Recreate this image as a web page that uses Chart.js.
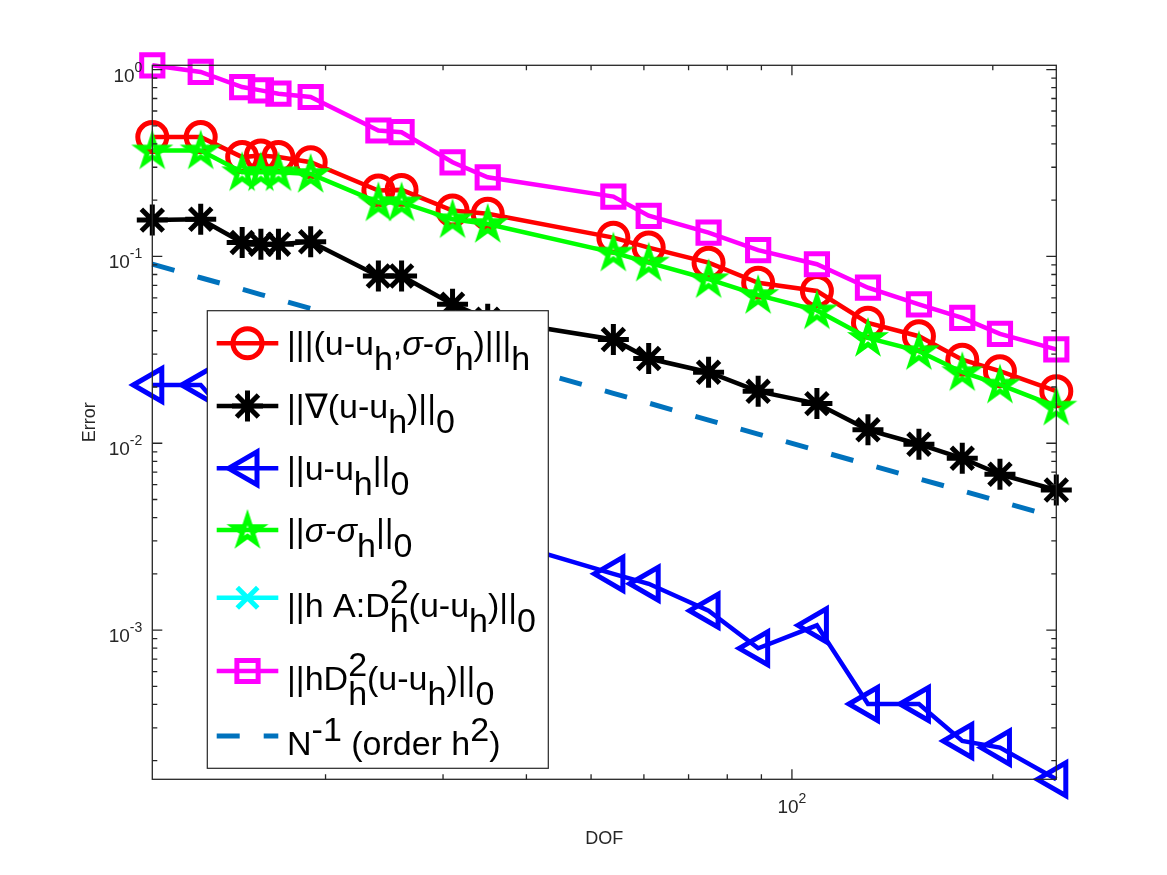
<!DOCTYPE html>
<html>
<head>
<meta charset="utf-8">
<title>Error vs DOF</title>
<script src="https://cdn.jsdelivr.net/npm/chart.js@4.4.0/dist/chart.umd.min.js"></script>
<style>
  html, body { margin: 0; padding: 0; background: #fff; }
  #wrap { width: 1167px; height: 875px; }
</style>
</head>
<body>
<div id="wrap"><canvas id="errChart" width="1167" height="875"></canvas></div>
<script>
// degrees of freedom of each mesh
const dof = [11, 13, 15, 16, 17, 19, 24, 26, 31, 35, 54, 61, 75, 89, 109, 130, 155, 180, 205, 249];

// error norms
const errEnergy = [0.435, 0.435, 0.340, 0.347, 0.340, 0.319, 0.225, 0.227, 0.176, 0.169,
                   0.126, 0.1115, 0.0926, 0.0723, 0.0653, 0.0441, 0.0374, 0.0280, 0.0243, 0.0190];
const errGrad = [0.1564, 0.158, 0.1186, 0.1163, 0.1163, 0.1197, 0.0786, 0.0786, 0.0555, 0.0461,
                 0.0359, 0.0284, 0.0240, 0.01896, 0.0163, 0.0118, 0.00988, 0.00831, 0.00682, 0.00562];
// points 3-10 sit behind the legend, so those are guesses
const errL2 = [0.0205, 0.0205, 0.0115, 0.0112, 0.0110, 0.0105, 0.0062, 0.0058, 0.0041, 0.00316,
               0.00200, 0.00177, 0.00127, 0.000799, 0.00106, 0.000402, 0.000402, 0.000255, 0.000235, 0.000159];
const errSigma = [0.369, 0.369, 0.282, 0.282, 0.282, 0.276, 0.1945, 0.1945, 0.158, 0.149,
                  0.1048, 0.0926, 0.0755, 0.0621, 0.0514, 0.0366, 0.0311, 0.0240, 0.0206, 0.0157];
const errHessA = []; // only shows up in the legend
const errHess = [1.054, 0.971, 0.806, 0.774, 0.743, 0.713, 0.472, 0.462, 0.319, 0.265,
                 0.209, 0.165, 0.134, 0.108, 0.0908, 0.0680, 0.0553, 0.0469, 0.0385, 0.0318];
// reference slope N^-1
const refLine = [0.0909, 0.0769, 0.0667, 0.0625, 0.0588, 0.0526, 0.0417, 0.0385, 0.0323, 0.0286,
                 0.0185, 0.0164, 0.0133, 0.0112, 0.00917, 0.00769, 0.00645, 0.00556, 0.00488, 0.00402];

const xTicks = [100];
const xTickLabels = ['10^{2}'];
const yTicks = [1e-3, 1e-2, 1e-1, 1];
const yTickLabels = ['10^{-3}', '10^{-2}', '10^{-1}', '10^{0}'];

const FONT = '"Liberation Sans", Helvetica, Arial, sans-serif';
const AXIS_COLOR = '#262626';
const legendRowY = [343.3, 406, 468.3, 530, 597.7, 671, 736];

// tiny TeX subset: _x, ^x, _{..}, ^{..}, \sigma, \nabla
function parseTex(src) {
    const s = src.replace(/\\sigma/g, 'σ').replace(/\\nabla/g, '∇');
    const segs = [];
    let buf = '';
    for (let i = 0; i < s.length; i++) {
        const c = s[i];
        if (c === '_' || c === '^') {
            if (buf) { segs.push({ text: buf, mode: 'n' }); buf = ''; }
            let arg;
            if (s[i + 1] === '{') {
                const end = s.indexOf('}', i + 2);
                arg = s.slice(i + 2, end);
                i = end;
            } else {
                arg = s[i + 1];
                i += 1;
            }
            segs.push({ text: arg, mode: c === '_' ? 'sub' : 'sup' });
        } else {
            buf += c;
        }
    }
    if (buf) segs.push({ text: buf, mode: 'n' });
    return segs;
}

// draws (or just measures when dry) a parsed label, returns the end x
function drawTex(ctx, src, x, y, o, dry) {
    const segs = parseTex(src);
    let prev = null;
    let scriptX = x;
    for (const seg of segs) {
        const script = seg.mode !== 'n';
        const stacked = script && prev && prev.mode !== 'n' && prev.mode !== seg.mode;
        const startX = stacked ? scriptX : x;
        const dy = seg.mode === 'sub' ? o.subDy : seg.mode === 'sup' ? o.supDy : 0;
        const fs = script ? o.scriptSize : o.size;
        let cx = startX;
        // sigma in italics, like the symbol font does
        const runs = seg.text.split(/(σ)/).filter(t => t);
        for (const t of runs) {
            ctx.font = (t === 'σ' ? 'italic ' : '') + fs + 'px ' + FONT;
            if (!dry) ctx.fillText(t, cx, y + dy);
            cx += ctx.measureText(t).width;
        }
        if (stacked) {
            x = Math.max(x, cx);
        } else {
            scriptX = startX;
            x = cx;
        }
        prev = seg;
    }
    return x;
}

// pentagram marker, drawn once and used as an image point style
function pentagram(color, R, lw) {
    const c = document.createElement('canvas');
    const s = Math.ceil(2 * R + 2 * lw + 6);
    c.width = s;
    c.height = s;
    const g = c.getContext('2d');
    g.translate(s / 2, s / 2 + 1);
    g.beginPath();
    for (let k = 0; k < 10; k++) {
        const r = k % 2 ? R * 0.382 : R;
        const ang = -Math.PI / 2 + k * Math.PI / 5;
        g.lineTo(r * Math.cos(ang), r * Math.sin(ang));
    }
    g.closePath();
    g.strokeStyle = color;
    g.lineWidth = lw;
    g.lineJoin = 'miter';
    g.stroke();
    return c;
}

const series = (label, tex, values, color, style, extra) => Object.assign({
    label: label,
    tex: tex,
    data: values.map((v, i) => ({ x: dof[i], y: v })),
    borderColor: color,
    borderWidth: 4.5,
    pointStyle: style,
    pointRadius: 14.5,
    pointHoverRadius: 14.5,
    pointBorderColor: color,
    pointBackgroundColor: 'rgba(0,0,0,0)',
    pointBorderWidth: 5,
    fill: false,
    clip: false
}, extra);

const starImg = pentagram('#00FF00', 14, 5);

const datasets = [
    series('|||(u-uh,σ-σh)|||h', '|||(u-u_h,\\sigma-\\sigma_h)|||_h', errEnergy, '#FF0000', 'circle', { order: 7 }),
    series('||∇(u-uh)||0', '||\\nabla(u-u_h)||_0', errGrad, '#000000', 'star', { order: 6, pointRadius: 15.5 }),
    series('||u-uh||0', '||u-u_h||_0', errL2, '#0000FF', 'triangle', { order: 5, pointRotation: -90, pointRadius: 19 }),
    series('||σ-σh||0', '||\\sigma-\\sigma_h||_0', errSigma, '#00FF00', starImg, { order: 4 }),
    series('||h A:Dh2(u-uh)||0', '||h A:D_h^2(u-u_h)||_0', errHessA, '#00FFFF', 'crossRot', { order: 3 }),
    series('||hDh2(u-uh)||0', '||hD_h^2(u-u_h)||_0', errHess, '#FF00FF', 'rect', { order: 2, pointRadius: 15 }),
    series('N-1 (order h2)', 'N^{-1} (order h^2)', refLine, '#0072BD', 'line',
           { order: 1, pointRadius: 0, pointHoverRadius: 0, borderWidth: 5, borderDash: [23, 24] })
];

const allValues = [].concat(errEnergy, errGrad, errL2, errSigma, errHessA, errHess, refLine);
const yMin = Math.min(...allValues);
const yMax = Math.max(...allValues);

const logTicks = (min, max) => {
    const out = [];
    for (let k = Math.floor(Math.log10(min)); k <= Math.ceil(Math.log10(max)); k++) {
        for (let m = 1; m <= 9; m++) {
            const v = m * Math.pow(10, k);
            if (v >= min * 0.9999 && v <= max * 1.0001) out.push({ v: v, major: m === 1 });
        }
    }
    return out;
};

const matlabAxes = {
    id: 'matlabAxes',
    afterDatasetsDraw(chart) {
        const { ctx, chartArea: a, scales: { x, y } } = chart;
        ctx.save();
        ctx.strokeStyle = AXIS_COLOR;
        ctx.lineWidth = 1.3;
        ctx.strokeRect(a.left, a.top, a.right - a.left, a.bottom - a.top);

        // inward ticks on all four sides
        ctx.beginPath();
        logTicks(x.min, x.max).forEach(t => {
            const px = x.getPixelForValue(t.v);
            const len = t.major ? 10 : 5;
            ctx.moveTo(px, a.bottom); ctx.lineTo(px, a.bottom - len);
            ctx.moveTo(px, a.top); ctx.lineTo(px, a.top + len);
        });
        logTicks(y.min, y.max).forEach(t => {
            const py = y.getPixelForValue(t.v);
            const len = t.major ? 10 : 5;
            ctx.moveTo(a.left, py); ctx.lineTo(a.left + len, py);
            ctx.moveTo(a.right, py); ctx.lineTo(a.right - len, py);
        });
        ctx.stroke();

        // tick labels
        ctx.fillStyle = AXIS_COLOR;
        ctx.textBaseline = 'alphabetic';
        ctx.textAlign = 'left';
        const tickFont = { size: 19, scriptSize: 14, subDy: 5, supDy: -10 };
        yTicks.forEach((v, i) => {
            const py = y.getPixelForValue(v);
            const w = drawTex(ctx, yTickLabels[i], 0, 0, tickFont, true);
            drawTex(ctx, yTickLabels[i], a.left - 10 - w, py + 12, tickFont);
        });
        xTicks.forEach((v, i) => {
            const px = x.getPixelForValue(v);
            const w = drawTex(ctx, xTickLabels[i], 0, 0, tickFont, true);
            drawTex(ctx, xTickLabels[i], px - w / 2, a.bottom + 34, tickFont);
        });

        // axis titles
        ctx.font = '18px ' + FONT;
        ctx.textAlign = 'center';
        ctx.fillText('DOF', (a.left + a.right) / 2, a.bottom + 65);
        ctx.save();
        ctx.translate(a.left - 57, (a.top + a.bottom) / 2);
        ctx.rotate(-Math.PI / 2);
        ctx.fillText('Error', 0, 0);
        ctx.restore();
        ctx.restore();
    },
    afterDraw(chart) {
        const { ctx } = chart;
        const box = { left: 207.3, top: 310.7, right: 548.3, bottom: 768.3 };
        ctx.save();
        ctx.fillStyle = '#FFFFFF';
        ctx.fillRect(box.left, box.top, box.right - box.left, box.bottom - box.top);
        ctx.strokeStyle = AXIS_COLOR;
        ctx.lineWidth = 1.2;
        ctx.strokeRect(box.left, box.top, box.right - box.left, box.bottom - box.top);

        const lineX0 = 216.7, lineX1 = 278.3, textX = 287;
        const textFont = { size: 34, scriptSize: 34, subDy: 15, supDy: -14 };
        chart.data.datasets.forEach((ds, i) => {
            const ry = legendRowY[i];
            ctx.strokeStyle = ds.borderColor;
            ctx.lineWidth = ds.borderWidth;
            ctx.setLineDash(ds.borderDash || []);
            ctx.beginPath();
            ctx.moveTo(lineX0, ry);
            ctx.lineTo(lineX1, ry);
            ctx.stroke();
            ctx.setLineDash([]);
            if (ds.pointRadius > 0 && Chart.helpers && Chart.helpers.drawPoint) {
                ctx.fillStyle = 'rgba(0,0,0,0)';
                ctx.lineWidth = ds.pointBorderWidth;
                Chart.helpers.drawPoint(ctx, {
                    pointStyle: ds.pointStyle,
                    rotation: ds.pointRotation || 0,
                    radius: ds.pointRadius,
                    borderWidth: ds.pointBorderWidth
                }, (lineX0 + lineX1) / 2, ry);
            }
            ctx.fillStyle = '#000000';
            ctx.textAlign = 'left';
            const off = ds.tex.indexOf('^') >= 0 ? 19 : 12;
            drawTex(ctx, ds.tex, textX, ry + off, textFont);
        });
        ctx.restore();
    }
};

new Chart(document.getElementById('errChart').getContext('2d'), {
    type: 'line',
    data: { datasets: datasets },
    options: {
        responsive: false,
        animation: false,
        layout: { padding: { left: 152.3, right: 110.7, top: 65.3, bottom: 95.7 } },
        plugins: { legend: { display: false }, tooltip: { enabled: false } },
        elements: { line: { tension: 0 } },
        scales: {
            x: { type: 'logarithmic', min: dof[0], max: dof[dof.length - 1], display: false },
            y: { type: 'logarithmic', min: yMin, max: yMax, display: false }
        }
    },
    plugins: [matlabAxes]
});
</script>
</body>
</html>
